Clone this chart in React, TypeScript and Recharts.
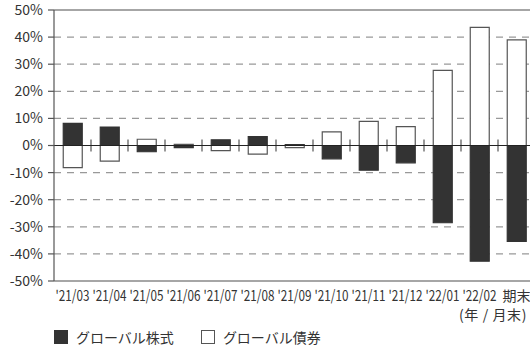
import { BarChart, Bar, XAxis, YAxis, CartesianGrid, ReferenceLine } from 'recharts';

const months = ["'21/03", "'21/04", "'21/05", "'21/06", "'21/07", "'21/08", "'21/09", "'21/10", "'21/11", "'21/12", "'22/01", "'22/02", '期末'];
const equity = [8.2, 6.8, -2.3, -0.8, 2.1, 3.3, 0.3, -4.9, -9.1, -6.4, -28.5, -42.7, -35.4];
const bond = [-8.2, -5.8, 2.3, 0.4, -1.9, -3.2, -0.8, 5.0, 8.9, 7.0, 27.7, 43.6, 39.0];
const yTicks = [-50, -40, -30, -20, -10, 0, 10, 20, 30, 40, 50];

const series = [
    { key: 'equity', name: 'グローバル株式', fill: '#333333', stroke: '#333333' },
    { key: 'bond', name: 'グローバル債券', fill: '#ffffff', stroke: '#555555' },
];

const FONT = '"Noto Sans CJK JP", "Noto Sans", sans-serif';

const chartData = months.map((m, i) => ({ month: m, equity: equity[i], bond: bond[i] }));

// zero line with small separators between the categories
const ZeroLine = (props: any) => {
    const { x1, x2, y1 } = props;
    const n = chartData.length;
    const step = (x2 - x1) / n;
    const marks = [];
    for (let k = 1; k < n; k++) {
        const x = x1 + step * k;
        marks.push(<line key={k} x1={x} x2={x} y1={y1 - 6} y2={y1 + 6} stroke="#777" strokeWidth={1.5} />);
    }
    return (
        <g>
            {marks}
            <line x1={x1} x2={x2} y1={y1} y2={y1} stroke="#222" strokeWidth={1.2} />
        </g>
    );
};

// narrow month labels; the kanji label keeps its normal width
const MonthTick = (props: any) => {
    const { x, y, payload } = props;
    const numeric = String(payload.value).startsWith("'");
    return (
        <g transform={`translate(${x},${y}) scale(${numeric ? 0.78 : 1},1)`}>
            <text x={0} y={0} dy={12} textAnchor="middle" fontSize={numeric ? 15 : 14} fill="#333" fontFamily={FONT}>
                {payload.value}
            </text>
        </g>
    );
};

export default function App() {
    return (
        <div style={{ position: 'absolute', left: 0, top: 0, width: 530, height: 348, overflow: 'hidden', background: '#fff', fontFamily: FONT }}>
            <BarChart
                width={540}
                height={348}
                data={chartData}
                stackOffset="sign"
                barCategoryGap="25%"
                margin={{ top: 10, right: 5, left: 0, bottom: 47 }}
            >
                <CartesianGrid
                    vertical={false}
                    horizontalValues={yTicks.filter((t) => t !== 0 && Math.abs(t) !== 50)}
                    stroke="#999"
                    strokeDasharray="7 6"
                    strokeWidth={1.2}
                />
                <XAxis
                    dataKey="month"
                    interval={0}
                    tickLine={false}
                    tickSize={0}
                    tickMargin={8}
                    axisLine={{ stroke: '#888', strokeWidth: 1.5 }}
                    tick={<MonthTick />}
                    height={20}
                />
                <YAxis
                    domain={[-50, 50]}
                    ticks={yTicks}
                    tickFormatter={(v) => `${v}%`}
                    width={54}
                    tickSize={6}
                    tickMargin={5}
                    axisLine={{ stroke: '#555', strokeWidth: 1.2 }}
                    tickLine={{ stroke: '#555', strokeWidth: 1.2 }}
                    tick={{ fontSize: 14, fill: '#333', fontFamily: FONT }}
                    allowDataOverflow
                />
                <ReferenceLine y={50} stroke="#888" strokeWidth={1.5} />
                {series.map((s) => (
                    <Bar
                        key={s.key}
                        dataKey={s.key}
                        name={s.name}
                        stackId="a"
                        fill={s.fill}
                        stroke={s.stroke}
                        strokeWidth={1.2}
                        isAnimationActive={false}
                    />
                ))}
                <ReferenceLine y={0} shape={ZeroLine} />
            </BarChart>
            <div style={{ position: 'absolute', right: 3, top: 305, fontSize: 14, lineHeight: '18px', letterSpacing: 0.6, color: '#333' }}>(年 / 月末)</div>
            <div style={{ position: 'absolute', left: 54, top: 327, display: 'flex', fontSize: 14, color: '#333' }}>
                {series.map((s) => (
                    <div key={s.key} style={{ display: 'flex', alignItems: 'center', marginRight: 27 }}>
                        <span style={{ display: 'inline-block', width: 12, height: 12, background: s.fill, border: `1px solid ${s.stroke}`, marginRight: 8 }} />
                        <span>{s.name}</span>
                    </div>
                ))}
            </div>
        </div>
    );
}
